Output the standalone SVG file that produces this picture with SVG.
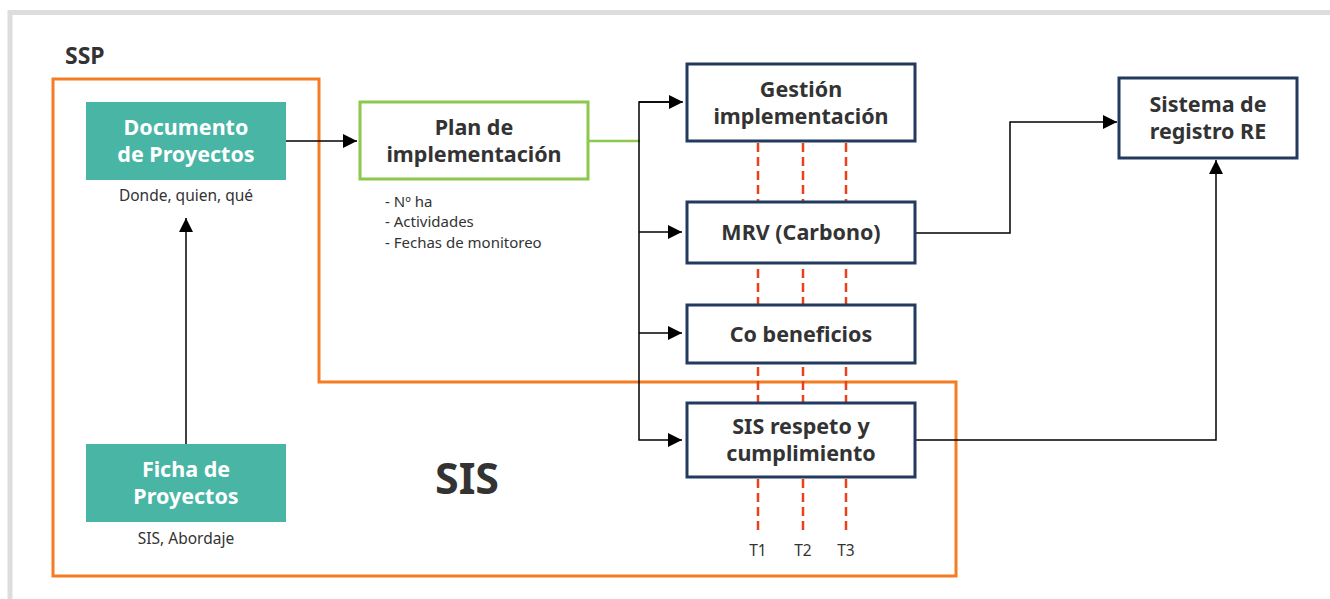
<svg xmlns="http://www.w3.org/2000/svg" width="1330" height="599" viewBox="0 0 1330 599">
<defs>
<style>
.frame{fill:none;stroke:#dddddd;stroke-width:5}
.ssp{fill:none;stroke:#f57c22;stroke-width:3}
.teal{fill:#48b5a5}
.navy{fill:#ffffff;stroke:#223a5e;stroke-width:3}
.green{fill:#ffffff;stroke:#8cc84b;stroke-width:3}
.t{font-family:"Noto Sans","Open Sans","Liberation Sans",sans-serif}
.wb{fill:#ffffff;font-size:21.5px;font-weight:bold;text-anchor:middle}
.db{fill:#333333;font-size:21.5px;font-weight:bold;text-anchor:middle}
.sm{fill:#333333;font-size:15.5px}
.bl{fill:#333333;font-size:15px}
.c{text-anchor:middle}
.ln{fill:none;stroke:#000000;stroke-width:1.5}
.dash{fill:none;stroke:#e8411c;stroke-width:2.5;stroke-dasharray:9 5}
</style>
<marker id="ah" viewBox="0 0 10 10" refX="10" refY="5" markerWidth="14" markerHeight="14" markerUnits="userSpaceOnUse" orient="auto">
<path d="M0,0 L10,5 L0,10 z" fill="#000000"/>
</marker>
</defs>
<rect x="0" y="0" width="1330" height="599" fill="#ffffff"/>
<rect class="frame" x="10" y="12.5" width="1340" height="600"/>

<g id="ssp">
<polygon class="ssp" points="53,79 319,79 319,382 956,382 956,576 53,576"/>
<text class="t" x="65" y="64" font-size="23" font-weight="bold" fill="#333333">SSP</text>
<text class="t" x="467" y="494" font-size="43" font-weight="bold" fill="#333333" text-anchor="middle">SIS</text>
</g>

<g id="connectors">
<line class="ln" x1="286" y1="141" x2="357" y2="141" marker-end="url(#ah)"/>
<line class="ln" x1="186" y1="444" x2="186" y2="218" marker-end="url(#ah)"/>
<line x1="589" y1="141" x2="640" y2="141" stroke="#8cc84b" stroke-width="2.5"/>
<polyline class="ln" points="682,102 639,102 639,440 682,440" marker-end="url(#ah)"/>
<line class="ln" x1="639" y1="232" x2="682" y2="232" marker-end="url(#ah)"/>
<line class="ln" x1="639" y1="333" x2="682" y2="333" marker-end="url(#ah)"/>
<line class="ln" x1="639" y1="102" x2="683" y2="102" marker-end="url(#ah)"/>
<polyline class="ln" points="916,233 1010,233 1010,122 1117,122" marker-end="url(#ah)"/>
<polyline class="ln" points="916,440 1216,440 1216,160" marker-end="url(#ah)"/>
<line class="dash" x1="758" y1="143" x2="758" y2="532"/>
<line class="dash" x1="803" y1="143" x2="803" y2="532"/>
<line class="dash" x1="846" y1="143" x2="846" y2="532"/>
</g>

<g id="documento">
<rect class="teal" x="86" y="102" width="200" height="78"/>
<text class="t wb" x="186" y="135">Documento</text>
<text class="t wb" x="186" y="162">de Proyectos</text>
<text class="t sm c" x="186" y="201">Donde, quien, qué</text>
</g>

<g id="ficha">
<rect class="teal" x="86" y="444" width="200" height="78"/>
<text class="t wb" x="186" y="477">Ficha de</text>
<text class="t wb" x="186" y="504">Proyectos</text>
<text class="t sm c" x="186" y="544">SIS, Abordaje</text>
</g>

<g id="plan">
<rect class="green" x="360" y="102" width="228" height="77"/>
<text class="t db" x="474" y="135">Plan de</text>
<text class="t db" x="474" y="162">implementación</text>
<text class="t bl" x="385" y="206.5">- Nº ha</text>
<text class="t bl" x="385" y="227">- Actividades</text>
<text class="t bl" x="385" y="247.5">- Fechas de monitoreo</text>
</g>

<g id="gestion">
<rect class="navy" x="687" y="64" width="228" height="77"/>
<text class="t db" x="801" y="97">Gestión</text>
<text class="t db" x="801" y="124">implementación</text>
</g>

<g id="mrv">
<rect class="navy" x="687" y="202" width="228" height="61"/>
<text class="t db" x="801" y="240">MRV (Carbono)</text>
</g>

<g id="cobeneficios">
<rect class="navy" x="687" y="305" width="228" height="58"/>
<text class="t db" x="801" y="342">Co beneficios</text>
</g>

<g id="sis">
<rect class="navy" x="687" y="403" width="228" height="74"/>
<text class="t db" x="801" y="434">SIS respeto y</text>
<text class="t db" x="801" y="461">cumplimiento</text>
<text class="t sm c" x="758" y="556">T1</text>
<text class="t sm c" x="803" y="556">T2</text>
<text class="t sm c" x="846" y="556">T3</text>
</g>

<g id="registro">
<rect class="navy" x="1119" y="78" width="178" height="80"/>
<text class="t db" x="1208" y="112">Sistema de</text>
<text class="t db" x="1208" y="139">registro RE</text>
</g>
</svg>
